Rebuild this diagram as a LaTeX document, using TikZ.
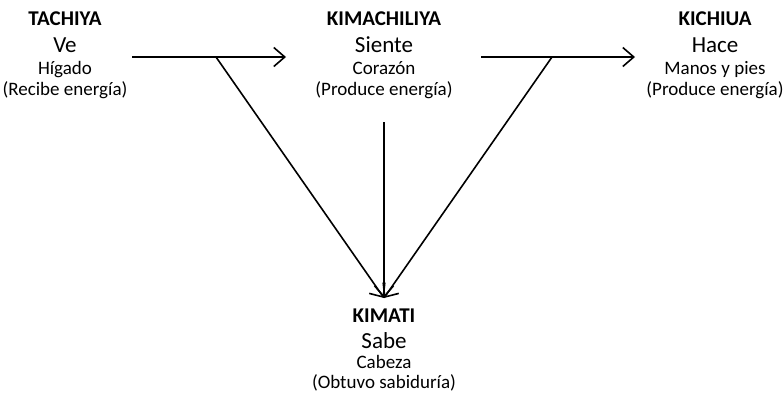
\documentclass[tikz,border=0pt]{standalone}
\usepackage{fontspec}
\setmainfont{Carlito}
\usetikzlibrary{arrows.meta}
\tikzset{
  ttl/.style={font=\fontsize{21}{24}\selectfont\bfseries, anchor=base, inner sep=0pt},
  verb/.style={font=\fontsize{23}{26}\selectfont, anchor=base, inner sep=0pt},
  sub/.style={font=\fontsize{19}{22}\selectfont, anchor=base, inner sep=0pt},
  conn/.style={line width=1.6pt, -{Straight Barb[length=11pt,width=19pt,line width=1.6pt]}}
}
\begin{document}
\begin{tikzpicture}[x=1pt,y=-1pt]
\useasboundingbox (0,0) rectangle (783,394);
% TACHIYA
\node[ttl] (tachiya) at (65,25) {TACHIYA};
\node[verb] (tachiyav) at (65,52.5) {Ve};
\node[sub] (tachiyao) at (65,74) {Hígado};
\node[sub] (tachiyap) at (65,95) {(Recibe energía)};
% KIMACHILIYA
\node[ttl] (kimach) at (384,25) {KIMACHILIYA};
\node[verb] (kimachv) at (384,52.5) {Siente};
\node[sub] (kimacho) at (384,74) {Corazón};
\node[sub] (kimachp) at (384,95) {(Produce energía)};
% KICHIUA
\node[ttl] (kichiua) at (715,25) {KICHIUA};
\node[verb] (kichiuav) at (715,52.5) {Hace};
\node[sub] (kichiuao) at (715,74) {Manos y pies};
\node[sub] (kichiuap) at (715,95) {(Produce energía)};
% KIMATI
\node[ttl] (kimati) at (384,322) {KIMATI};
\node[verb] (kimativ) at (384,348) {Sabe};
\node[sub] (kimatio) at (384,368) {Cabeza};
\node[sub] (kimatip) at (384,388) {(Obtuvo sabiduría)};
% connector points
\coordinate (a1s) at (132,57);
\coordinate (a1e) at (286,57);
\coordinate (b1) at (216,57);
\coordinate (a2s) at (481,57);
\coordinate (a2e) at (635,57);
\coordinate (b2) at (552,57);
\coordinate (vs) at (384,122);
\coordinate (tip) at (384,298);
% connectors
\draw[conn] (a1s) -- (a1e);
\draw[conn] (a2s) -- (a2e);
\draw[conn] (b1) -- (tip);
\draw[conn] (b2) -- (tip);
\draw[conn] (vs) -- (tip);
\end{tikzpicture}
\end{document}
